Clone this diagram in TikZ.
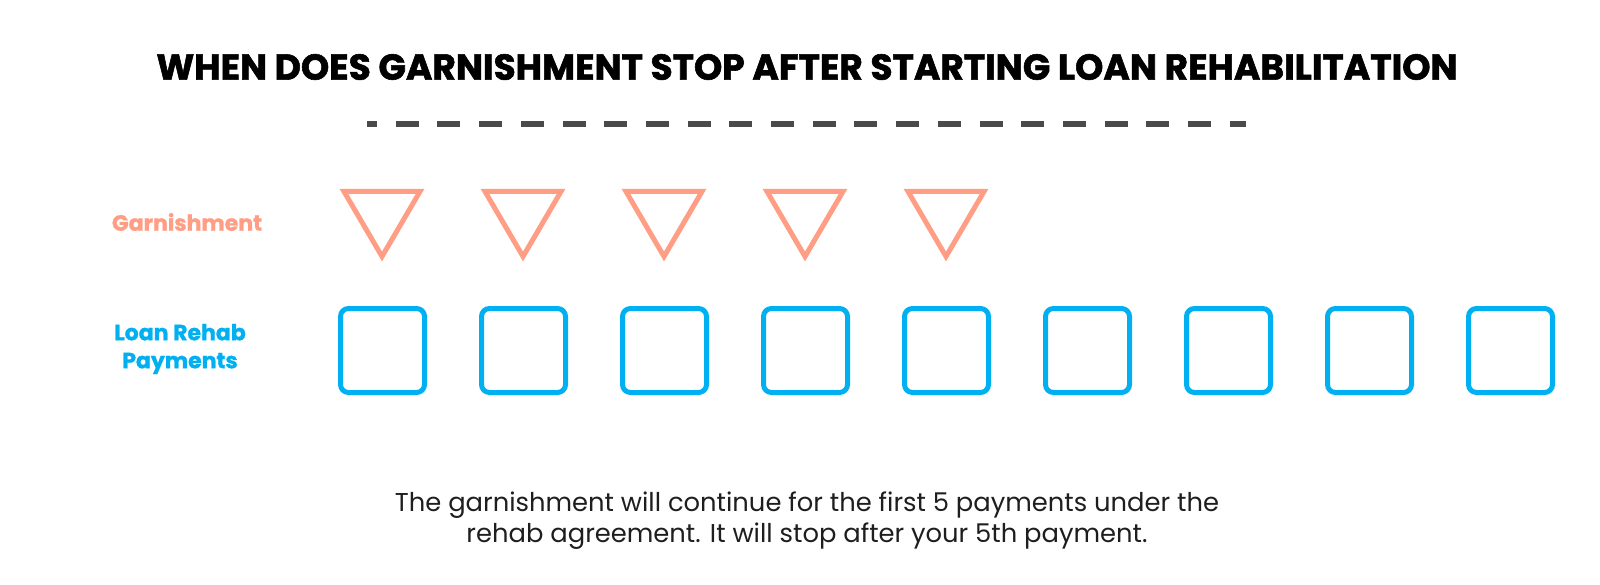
\documentclass[tikz,border=0pt]{standalone}
\usepackage{fontspec}
\setmainfont{Poppins}
\definecolor{garnish}{HTML}{FF9E85}
\definecolor{rehab}{HTML}{00B0F0}
\definecolor{dashgray}{HTML}{4A4A4A}
\definecolor{notegray}{HTML}{1E1E1E}

\begin{document}
\begin{tikzpicture}[x=1pt,y=-1pt,
    tri/.style={draw=garnish,line width=5pt,line join=miter},
    box/.style={draw=rehab,line width=5pt,rounded corners=8pt},
    rowlabel/.style={font=\fontsize{22}{28}\selectfont\bfseries\addfontfeature{FakeBold=1.2},align=center,inner sep=0pt}]
    \useasboundingbox (0,0) rectangle (1600,585);

    % title
    \node[font=\fontsize{36}{42}\selectfont\bfseries\addfontfeature{FakeBold=1.6}] (title) at (807,67)
        {WHEN DOES GARNISHMENT STOP AFTER STARTING LOAN REHABILITATION};

    % dashed divider
    \draw[dashgray,line width=6pt,dash pattern=on 23pt off 18.7pt,dash phase=13pt]
        (367,124) -- (1246,124);

    % row labels
    \node[rowlabel,text=garnish] (garn) at (187,222) {Garnishment};
    \node[rowlabel,text=rehab] (rehab) at (180,349) {Loan Rehab\\Payments};

    % garnishment triangles (first 5 payments)
    \foreach \i in {0,...,4}
        \draw[tri] ({382+141*\i-38},191.5) -- ++(76,0) -- ++(-38,65) -- cycle;

    % rehab payment squares
    \foreach \i in {0,...,8}
        \draw[box] ({340.5+141*\i},308.5) rectangle ++(84,84);

    % caption
    \node[font=\fontsize{25.8}{31}\selectfont,text=notegray,align=center] (note) at (807,521)
        {The garnishment will continue for the first 5 payments under the\\
         rehab agreement. It will stop after your 5th payment.};
\end{tikzpicture}
\end{document}
